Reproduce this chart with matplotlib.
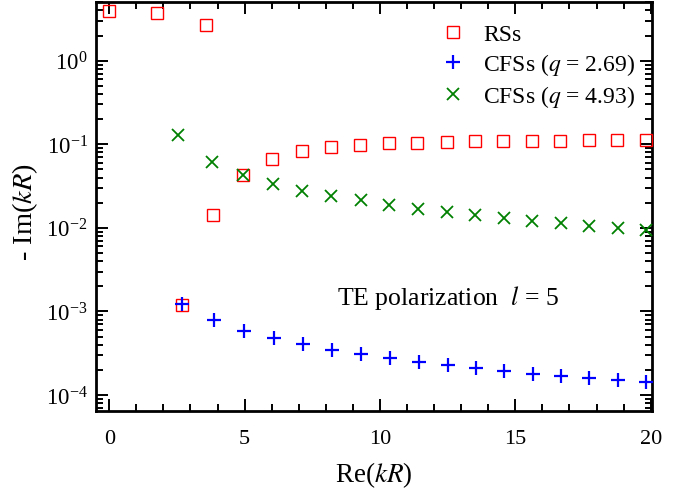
import numpy as np
import matplotlib
matplotlib.use("Agg")
import matplotlib.pyplot as plt
from matplotlib.ticker import MultipleLocator, LogLocator, LogFormatterMathtext, NullFormatter

plt.rcParams['font.family'] = ['Liberation Serif', 'DejaVu Serif']
plt.rcParams['mathtext.fontset'] = 'stix'
plt.rcParams['axes.unicode_minus'] = False

# resonant states (RSs)
rs_re = [0.0, 1.75, 2.70, 3.57, 3.83, 4.93, 6.02, 7.11, 8.19, 9.26, 10.32,
         11.38, 12.46, 13.51, 14.55, 15.61, 16.66, 17.71, 18.77, 19.82]
rs_im = [3.97, 3.69, 1.19e-3, 2.67, 0.0144, 0.0429, 0.0667, 0.0824, 0.092, 0.098, 0.1027,
         0.105, 0.107, 0.108, 0.109, 0.110, 0.111, 0.112, 0.112, 0.113]

# CFSs, q = 2.69
cfs1_re = [2.70, 3.88, 4.99, 6.07, 7.17, 8.24, 9.31, 10.37, 11.44, 12.50,
           13.55, 14.58, 15.64, 16.69, 17.73, 18.79, 19.84]
cfs1_im = [1.23e-3, 7.9e-4, 5.89e-4, 4.77e-4, 4.08e-4, 3.48e-4, 3.12e-4, 2.76e-4, 2.50e-4,
           2.29e-4, 2.09e-4, 1.94e-4, 1.80e-4, 1.69e-4, 1.59e-4, 1.50e-4, 1.43e-4]

# CFSs, q = 4.93
cfs2_re = [2.55, 3.80, 4.93, 6.04, 7.13, 8.20, 9.29, 10.34, 11.40, 12.46,
           13.52, 14.57, 15.63, 16.68, 17.73, 18.78, 19.83]
cfs2_im = [0.130, 0.0619, 0.0429, 0.0338, 0.0277, 0.0240, 0.0215, 0.0186, 0.0168,
           0.0154, 0.0141, 0.0130, 0.0121, 0.0113, 0.0106, 0.0100, 0.0095]

fig = plt.figure(figsize=(6.78, 4.89), dpi=100)
ax = fig.add_axes([96/678, 1-412/489, 556/678, 409/489])

ax.plot(rs_re, rs_im, ls='none', marker='s', ms=8.8, mfc='none', mec='#ff0000', mew=1.0,
        label='RSs', clip_on=False, zorder=3)
ax.plot(cfs1_re, cfs1_im, ls='none', marker='+', ms=9.5, mec='#0000ff', mew=1.6,
        label='CFSs ($q$ = 2.69)', clip_on=False, zorder=4)
ax.plot(cfs2_re, cfs2_im, ls='none', marker='x', ms=8, mec='#008000', mew=1.3,
        label='CFSs ($q$ = 4.93)', clip_on=False, zorder=4)

ax.set_yscale('log')
ax.set_xlim(-0.49, 20.05)
ax.set_ylim(6.44e-5, 5.04)

ax.xaxis.set_major_locator(MultipleLocator(5))
ax.xaxis.set_minor_locator(MultipleLocator(1))
ax.yaxis.set_major_locator(LogLocator(base=10, numticks=20))
ax.yaxis.set_minor_locator(LogLocator(base=10, subs=np.arange(2, 10), numticks=20))
ax.yaxis.set_major_formatter(LogFormatterMathtext())
ax.yaxis.set_minor_formatter(NullFormatter())

ax.tick_params(which='both', direction='in', top=True, right=True, width=1.4)
ax.tick_params(which='major', length=8.5)
ax.tick_params(which='minor', length=4.8)
ax.tick_params(axis='x', which='major', labelsize=16, pad=13)
ax.tick_params(axis='y', which='major', labelsize=16.5, pad=6)
for s in ax.spines.values():
    s.set_linewidth(2.0)

ax.set_xlabel('Re($kR$)', fontsize=19.5, labelpad=8)
ax.set_ylabel('- Im($kR$)', fontsize=20.5)
ax.yaxis.set_label_coords(-0.101, 0.49)

ax.text(0.433, 0.262, 'TE polarization  $l$ = 5', transform=ax.transAxes,
        fontsize=18.5, va='baseline', ha='left')

ax.legend(loc='upper right', bbox_to_anchor=(1.013, 1.005), frameon=False, fontsize=17,
          handletextpad=0.55, labelspacing=0.26, borderaxespad=0.6, handlelength=1.5)

fig.savefig('out.png', dpi=100)
